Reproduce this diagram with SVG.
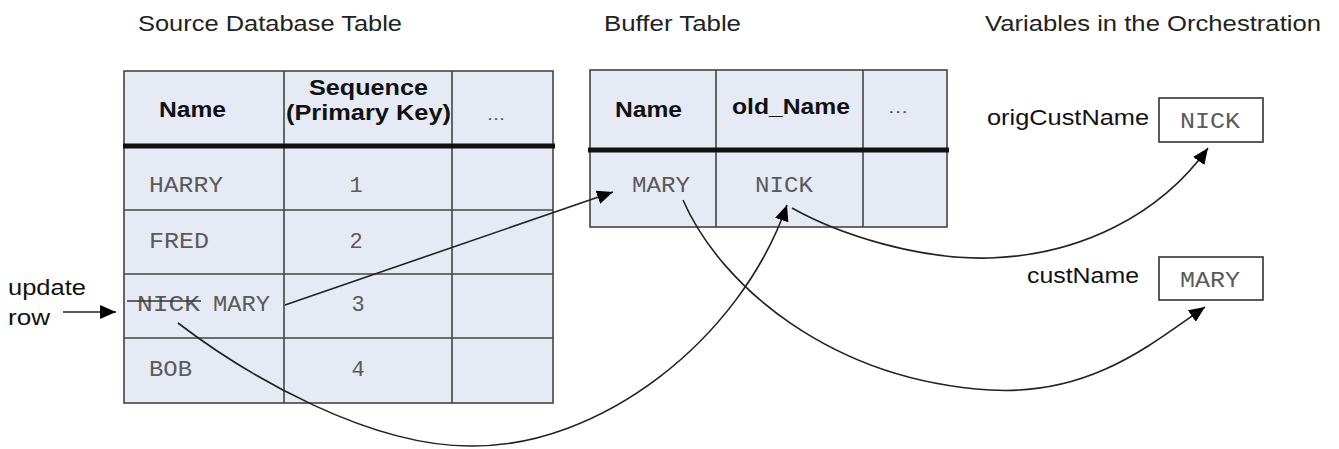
<svg xmlns="http://www.w3.org/2000/svg" width="1339" height="449" viewBox="0 0 1339 449">
  <style>
    .cell { fill: #E6EAF5; stroke: #444; stroke-width: 1.6; }
    .grid { stroke: #444; stroke-width: 1.6; fill: none; }
    .thick { stroke: #111; stroke-width: 5; }
    .title { font-family: "Liberation Sans", Arial, sans-serif; font-size: 22px; fill: #222; }
    .hdr { font-family: "Liberation Sans", Arial, sans-serif; font-size: 22px; font-weight: bold; fill: #111; }
    .dots { font-family: "Liberation Sans", Arial, sans-serif; font-size: 16px; fill: #555; }
    .mono { font-family: "Liberation Mono", "Courier New", monospace; font-size: 22px; fill: #5a5a5a; }
    .lbl { font-family: "Liberation Sans", Arial, sans-serif; font-size: 22px; fill: #111; }
    .var { fill: #fff; stroke: #333; stroke-width: 1.6; }
    .conn { fill: none; stroke: #222; stroke-width: 1.6; }
  </style>
  <defs>
    <marker id="arr" markerUnits="userSpaceOnUse" markerWidth="17" markerHeight="15" refX="16" refY="7" orient="auto">
      <path d="M0,0 L16,7 L0,14 z" fill="#000"/>
    </marker>
  </defs>

  <g id="titles">
    <text class="title" x="138" y="31" textLength="264" lengthAdjust="spacingAndGlyphs">Source Database Table</text>
    <text class="title" x="604" y="31" textLength="137" lengthAdjust="spacingAndGlyphs">Buffer Table</text>
    <text class="title" x="985" y="31" textLength="336" lengthAdjust="spacingAndGlyphs">Variables in the Orchestration</text>
  </g>

  <g id="source-table">
    <rect class="cell" x="124" y="71" width="429" height="332"/>
    <line class="grid" x1="284" y1="71" x2="284" y2="403"/>
    <line class="grid" x1="452" y1="71" x2="452" y2="403"/>
    <line class="grid" x1="124" y1="210" x2="553" y2="210"/>
    <line class="grid" x1="124" y1="274" x2="553" y2="274"/>
    <line class="grid" x1="124" y1="338" x2="553" y2="338"/>
    <line class="thick" x1="123" y1="146" x2="555" y2="146"/>
    <text class="hdr" x="159" y="117" textLength="67" lengthAdjust="spacingAndGlyphs">Name</text>
    <text class="hdr" x="309" y="95" textLength="119" lengthAdjust="spacingAndGlyphs">Sequence</text>
    <text class="hdr" x="286" y="120" textLength="165" lengthAdjust="spacingAndGlyphs">(Primary Key)</text>
    <text class="dots" x="487" y="120" textLength="18" lengthAdjust="spacingAndGlyphs">...</text>
    <text class="mono" x="149" y="192" textLength="74" lengthAdjust="spacingAndGlyphs">HARRY</text>
    <text class="mono" x="149" y="248" textLength="60" lengthAdjust="spacingAndGlyphs">FRED</text>
    <text class="mono" x="137" y="311" textLength="63" lengthAdjust="spacingAndGlyphs">NICK</text>
    <line x1="127" y1="301" x2="201" y2="301" stroke="#333" stroke-width="1.6"/>
    <text class="mono" x="213" y="311" textLength="57" lengthAdjust="spacingAndGlyphs">MARY</text>
    <text class="mono" x="149" y="376" textLength="43" lengthAdjust="spacingAndGlyphs">BOB</text>
    <text class="mono" x="356" y="192" text-anchor="middle">1</text>
    <text class="mono" x="356" y="248" text-anchor="middle">2</text>
    <text class="mono" x="358" y="311" text-anchor="middle">3</text>
    <text class="mono" x="358" y="376" text-anchor="middle">4</text>
  </g>

  <g id="buffer-table">
    <rect class="cell" x="590" y="70" width="357" height="157"/>
    <line class="grid" x1="716" y1="70" x2="716" y2="227"/>
    <line class="grid" x1="863" y1="70" x2="863" y2="227"/>
    <line class="thick" x1="588" y1="150" x2="949" y2="150"/>
    <text class="hdr" x="615" y="117" textLength="67" lengthAdjust="spacingAndGlyphs">Name</text>
    <text class="hdr" x="732" y="114" textLength="118" lengthAdjust="spacingAndGlyphs">old_Name</text>
    <text class="dots" x="888" y="113" textLength="20" lengthAdjust="spacingAndGlyphs">...</text>
    <text class="mono" x="632" y="192" textLength="58" lengthAdjust="spacingAndGlyphs">MARY</text>
    <text class="mono" x="755" y="192" textLength="58" lengthAdjust="spacingAndGlyphs">NICK</text>
  </g>

  <g id="var-origCustName">
    <text class="lbl" x="987" y="125" textLength="162" lengthAdjust="spacingAndGlyphs">origCustName</text>
    <rect class="var" x="1159" y="98" width="104" height="44"/>
    <text class="mono" x="1180" y="128" textLength="60" lengthAdjust="spacingAndGlyphs">NICK</text>
  </g>

  <g id="var-custName">
    <text class="lbl" x="1027" y="283" textLength="112" lengthAdjust="spacingAndGlyphs">custName</text>
    <rect class="var" x="1159" y="257" width="104" height="43"/>
    <text class="mono" x="1180" y="287" textLength="60" lengthAdjust="spacingAndGlyphs">MARY</text>
  </g>

  <g id="update-row">
    <text class="lbl" x="8" y="295" textLength="78" lengthAdjust="spacingAndGlyphs">update</text>
    <text class="lbl" x="8" y="325" textLength="42" lengthAdjust="spacingAndGlyphs">row</text>
  </g>

  <g id="connectors">
    <line class="conn" x1="63" y1="312" x2="116" y2="312" marker-end="url(#arr)"/>
    <line class="conn" x1="285" y1="305" x2="613" y2="192" marker-end="url(#arr)"/>
    <path class="conn" d="M178,323 C250,378 370,446 470,446 C600,448 740,340 787,205" marker-end="url(#arr)"/>
    <path class="conn" d="M683,200 C720,285 830,380 990,390 C1090,396 1150,345 1205,307" marker-end="url(#arr)"/>
    <path class="conn" d="M792,208 C840,235 920,260 990,258 C1080,255 1160,215 1208,148" marker-end="url(#arr)"/>
  </g>
</svg>
